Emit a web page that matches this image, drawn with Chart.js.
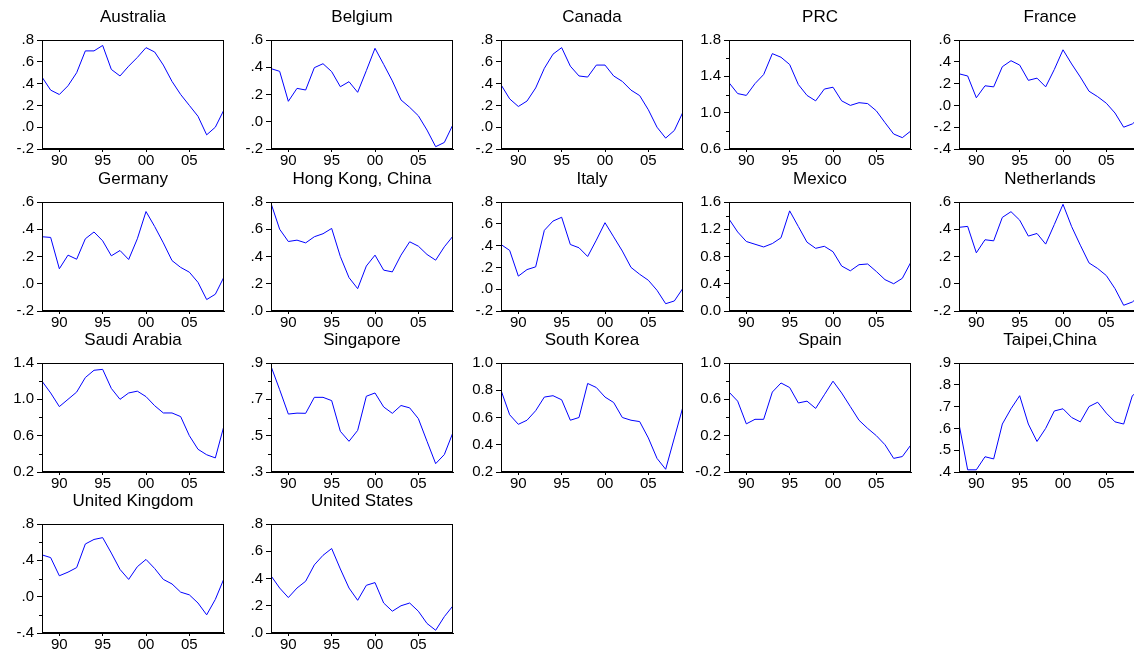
<!DOCTYPE html>
<html><head><meta charset="utf-8">
<script src="https://cdn.jsdelivr.net/npm/chart.js@4/dist/chart.umd.min.js"></script>
<style>
html,body{margin:0;padding:0;background:#fff;overflow:hidden;width:1134px;height:654px;position:relative;}
</style></head><body>
<script>
// ---- data ----
const years = [1988,1989,1990,1991,1992,1993,1994,1995,1996,1997,1998,1999,2000,2001,2002,2003,2004,2005,2006,2007,2008,2009];
const xTickValues = [1990,1995,2000,2005];
const xTickLabels = ['90','95','00','05'];

const australia   = [0.46,0.34,0.30,0.38,0.50,0.70,0.70,0.75,0.53,0.47,0.56,0.64,0.73,0.69,0.57,0.42,0.30,0.20,0.10,-0.07,0.00,0.16];
const belgium     = [0.39,0.37,0.15,0.245,0.233,0.397,0.426,0.368,0.257,0.294,0.216,0.375,0.539,0.421,0.30,0.16,0.106,0.044,-0.061,-0.183,-0.152,-0.02];
const canada      = [0.39,0.26,0.19,0.24,0.36,0.54,0.67,0.73,0.56,0.47,0.46,0.57,0.57,0.47,0.42,0.34,0.29,0.16,0.00,-0.10,-0.03,0.14];
const prc         = [1.33,1.21,1.19,1.32,1.42,1.65,1.61,1.53,1.31,1.19,1.13,1.26,1.28,1.13,1.08,1.11,1.10,1.02,0.89,0.765,0.725,0.80];
const france      = [0.29,0.27,0.07,0.18,0.17,0.355,0.41,0.37,0.23,0.25,0.17,0.33,0.51,0.38,0.26,0.13,0.08,0.02,-0.07,-0.20,-0.17,-0.10];
const germany     = [0.345,0.34,0.11,0.21,0.18,0.33,0.38,0.315,0.205,0.244,0.178,0.33,0.53,0.42,0.30,0.17,0.12,0.085,0.01,-0.116,-0.077,0.05];
const hongKong    = [0.79,0.60,0.51,0.52,0.50,0.545,0.567,0.606,0.40,0.245,0.164,0.33,0.41,0.30,0.287,0.41,0.508,0.476,0.415,0.373,0.471,0.55];
const italy       = [0.41,0.356,0.12,0.18,0.205,0.54,0.625,0.66,0.41,0.38,0.30,0.45,0.61,0.48,0.35,0.20,0.137,0.082,-0.01,-0.133,-0.108,0.01];
const mexico      = [1.35,1.16,1.02,0.98,0.94,0.99,1.075,1.47,1.24,1.01,0.92,0.95,0.87,0.66,0.59,0.68,0.69,0.58,0.46,0.40,0.48,0.72];
const netherlands = [0.414,0.421,0.227,0.323,0.315,0.487,0.529,0.467,0.35,0.369,0.291,0.435,0.583,0.419,0.283,0.153,0.112,0.06,-0.036,-0.158,-0.134,-0.08];
const saudiArabia = [1.20,1.07,0.92,1.00,1.08,1.24,1.32,1.33,1.12,1.00,1.07,1.09,1.03,0.93,0.85,0.85,0.81,0.60,0.45,0.39,0.355,0.71];
const singapore   = [0.882,0.753,0.619,0.624,0.623,0.711,0.711,0.693,0.524,0.469,0.529,0.717,0.735,0.658,0.623,0.666,0.653,0.594,0.469,0.346,0.396,0.518];
const southKorea  = [0.80,0.62,0.55,0.58,0.65,0.75,0.76,0.73,0.58,0.60,0.85,0.82,0.75,0.71,0.60,0.58,0.57,0.45,0.30,0.22,0.45,0.68];
const spain       = [0.68,0.58,0.33,0.38,0.38,0.68,0.78,0.73,0.56,0.58,0.50,0.65,0.80,0.67,0.52,0.37,0.28,0.20,0.10,-0.05,-0.03,0.10];
const taipei      = [0.62,0.41,0.41,0.47,0.46,0.62,0.69,0.75,0.62,0.54,0.60,0.68,0.69,0.65,0.63,0.70,0.72,0.67,0.63,0.62,0.75,0.78];
const unitedKingdom = [0.46,0.43,0.23,0.27,0.32,0.58,0.63,0.65,0.48,0.30,0.19,0.33,0.41,0.31,0.19,0.14,0.05,0.02,-0.07,-0.20,-0.03,0.20];
const unitedStates  = [0.42,0.33,0.26,0.33,0.38,0.50,0.57,0.62,0.47,0.33,0.24,0.35,0.37,0.22,0.16,0.20,0.22,0.16,0.07,0.02,0.12,0.20];

const titles = ['Australia','Belgium','Canada','PRC','France','Germany','Hong Kong, China','Italy','Mexico','Netherlands',
  'Saudi Arabia','Singapore','South Korea','Spain','Taipei,China','United Kingdom','United States'];

// y tick labels (values are parsed from them)
const yLabAUS = ['-.2','.0','.2','.4','.6','.8'];
const yLabBEL = ['-.2','.0','.2','.4','.6'];
const yLabCAN = ['-.2','.0','.2','.4','.6','.8'];
const yLabPRC = ['0.6','1.0','1.4','1.8'];
const yLabFRA = ['-.4','-.2','.0','.2','.4','.6'];
const yLabGER = ['-.2','.0','.2','.4','.6'];
const yLabHKG = ['.0','.2','.4','.6','.8'];
const yLabITA = ['-.2','.0','.2','.4','.6','.8'];
const yLabMEX = ['0.0','0.4','0.8','1.2','1.6'];
const yLabNLD = ['-.2','.0','.2','.4','.6'];
const yLabSAU = ['0.2','0.6','1.0','1.4'];
const yLabSGP = ['.3','.5','.7','.9'];
const yLabKOR = ['0.2','0.4','0.6','0.8','1.0'];
const yLabESP = ['-0.2','0.2','0.6','1.0'];
const yLabTWN = ['.4','.5','.6','.7','.8','.9'];
const yLabGBR = ['-.4','.0','.4','.8'];
const yLabUSA = ['.0','.2','.4','.6','.8'];

// minor (unlabelled) y ticks
const yMinPRC = [0.8,1.2,1.6];
const yMinMEX = [0.2,0.6,1.0,1.4];
const yMinSAU = [0.4,0.8,1.2];
const yMinSGP = [0.4,0.6,0.8];
const yMinESP = [0.0,0.4,0.8];
const yMinGBR = [-0.2,0.2,0.6];

const series = [australia,belgium,canada,prc,france,germany,hongKong,italy,mexico,netherlands,
  saudiArabia,singapore,southKorea,spain,taipei,unitedKingdom,unitedStates];
const yLabels = [yLabAUS,yLabBEL,yLabCAN,yLabPRC,yLabFRA,yLabGER,yLabHKG,yLabITA,yLabMEX,yLabNLD,
  yLabSAU,yLabSGP,yLabKOR,yLabESP,yLabTWN,yLabGBR,yLabUSA];
const yMinors = [[],[],[],yMinPRC,[],[],[],[],yMinMEX,[],yMinSAU,yMinSGP,[],yMinESP,[],yMinGBR,[]];

// ---- layout ----
const colX = [42, 271, 501, 729, 959];
const rowY = [40, 202, 363, 524];
const PW = 182, PH = 109;
const padL = 50, padT = 40, padB = 24, padR = 3;
const FONT = "'Liberation Sans', Arial, sans-serif";
Chart.defaults.font.family = FONT;
Chart.defaults.color = '#000';

const framePlugin = {
  id: 'frame',
  afterDraw(chart, args, opts) {
    const a = chart.chartArea, g = chart.ctx;
    g.save();
    g.strokeStyle = '#000'; g.lineWidth = 1;
    g.strokeRect(Math.round(a.left) + 0.5, Math.round(a.top) + 0.5, Math.round(a.right - a.left) - 1, Math.round(a.bottom - a.top) - 1);
    const ys = chart.scales.y;
    (opts.minor || []).forEach(v => {
      const py = Math.round(ys.getPixelForValue(v)) + 0.5;
      g.beginPath(); g.moveTo(a.left - 3, py); g.lineTo(a.left, py); g.stroke();
    });
    g.restore();
  }
};

series.forEach((vals, i) => {
  const col = i % 5, row = Math.floor(i / 5);
  const W = padL + PW + padR, H = padT + PH + padB;
  const cv = document.createElement('canvas');
  cv.width = W; cv.height = H;
  cv.style.cssText = `position:absolute;left:${colX[col] - padL}px;top:${rowY[row] - padT}px;width:${W}px;height:${H}px;`;
  document.body.appendChild(cv);
  const labs = yLabels[i];
  const tv = labs.map(parseFloat);
  new Chart(cv, {
    type: 'line',
    data: { datasets: [{ data: years.map((y, k) => ({ x: y, y: vals[k] })), borderColor: '#0000ff', borderWidth: 1, pointRadius: 0, tension: 0, fill: false }] },
    options: {
      responsive: false, animation: false, devicePixelRatio: 1,
      layout: { padding: { left: 0, right: padR, top: 0, bottom: 0 } },
      plugins: {
        legend: { display: false }, tooltip: { enabled: false },
        title: { display: true, fullSize: false, text: titles[i], color: '#000', font: { family: FONT, size: 17, weight: 'normal', lineHeight: 1.2 }, padding: { top: 7, bottom: 12.6 } },
        frame: { minor: yMinors[i] }
      },
      scales: {
        x: {
          type: 'linear', min: 1988, max: 2009,
          afterBuildTicks: s => { s.ticks = xTickValues.map(v => ({ value: v })); },
          afterFit: s => { s.height = padB; },
          ticks: { callback: v => xTickLabels[xTickValues.indexOf(v)], font: { size: 15 }, color: '#000', maxRotation: 0, autoSkip: false, padding: 0 },
          grid: { drawOnChartArea: false, drawTicks: true, tickLength: 3, color: '#000' },
          border: { display: true, color: '#000' }
        },
        y: {
          type: 'linear', min: tv[0], max: tv[tv.length - 1],
          afterBuildTicks: s => { s.ticks = tv.map(v => ({ value: v })); },
          afterFit: s => { s.width = padL; },
          ticks: { callback: (v, idx) => labs[idx], font: { size: 15 }, color: '#000', padding: 3 },
          grid: { drawOnChartArea: false, drawTicks: true, tickLength: 5, color: '#000' },
          border: { display: true, color: '#000' }
        }
      }
    },
    plugins: [framePlugin]
  });
});
</script>
</body></html>
